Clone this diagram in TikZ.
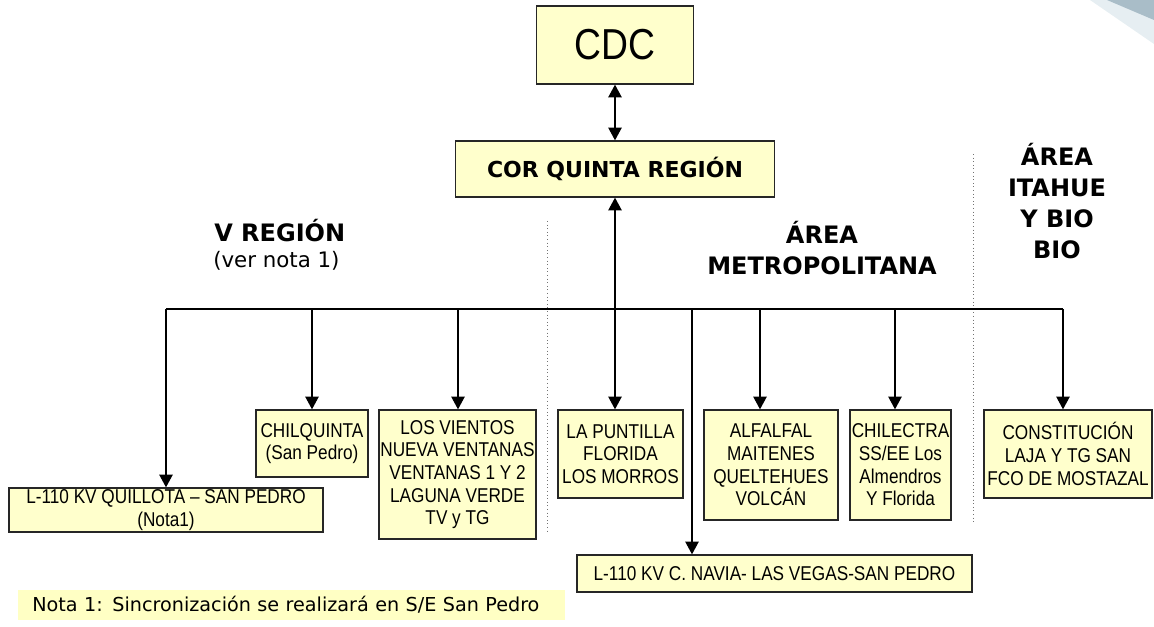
\documentclass[tikz,border=0pt]{standalone}
\usepackage{fontspec}
\setmainfont{Liberation Sans}
\newfontfamily\narrowfont[FakeStretch=0.86]{Liberation Sans}
\newfontfamily\tahoma{DejaVu Sans}
\usetikzlibrary{arrows.meta}

\newcommand{\pu}{0.75pt}

\definecolor{boxfill}{HTML}{FFFFCC}
\definecolor{notefill}{HTML}{FFFFC4}
\definecolor{swooshlight}{HTML}{E6EEF2}
\definecolor{swooshdark}{HTML}{A9BDC8}

\tikzset{
  unitbox/.style={draw=black!85, line width=1pt, fill=boxfill, align=center, inner sep=0pt,
    font=\narrowfont\fontsize{15}{17}\selectfont},
  area/.style={align=center, inner sep=0pt, font=\tahoma\bfseries\fontsize{18}{23.25}\selectfont},
  link/.style={line width=1pt},
  feed/.style={link, -{Triangle[length=9.5pt,width=10pt]}},
  both/.style={link, {Triangle[length=9.5pt,width=10pt]}-{Triangle[length=9.5pt,width=10pt]}},
  divider/.style={draw=black!55, dotted, line width=0.7pt}
}

\begin{document}
\begin{tikzpicture}[x=\pu, y=-\pu]

\useasboundingbox (0,0) rectangle (1154,627) ;

\fill [swooshlight] (1090,0) -- (1154,0) -- (1154,44) -- cycle ;
\fill [swooshdark] (1107,0) -- (1154,0) -- (1154,20) -- cycle ;

\node [unitbox, minimum width=157*\pu, minimum height=78*\pu, font=\narrowfont\fontsize{32.5}{36}\selectfont] (cdc) at (615,45) {CDC} ;
\node [unitbox, minimum width=319*\pu, minimum height=56*\pu, font=\tahoma\bfseries\fontsize{16.5}{20}\selectfont] (cor) at (615,169) {COR QUINTA REGIÓN} ;

\node [anchor=base west, inner sep=0pt, font=\tahoma\bfseries\fontsize{18}{22}\selectfont] (vreg) at (214,242) {V REGIÓN} ;
\node [anchor=base west, inner sep=0pt, font=\tahoma\fontsize{16}{20}\selectfont] (vnota) at (213,268) {(ver nota 1)} ;
\node [area] (metro) at (822,248) {ÁREA\\METROPOLITANA} ;
\node [area] (itahue) at (1057,201) {ÁREA\\ITAHUE\\Y BIO\\BIO} ;

\draw [divider] (547,221) to (547,533) ;
\draw [divider] (973,154) to (973,522) ;

\node [unitbox, minimum width=314*\pu, minimum height=44*\pu] (quillota) at (166,510) {L-110 KV QUILLOTA – SAN PEDRO\\(Nota1)} ;
\node [unitbox, minimum width=112*\pu, minimum height=67*\pu] (chilquinta) at (312,443.5) {CHILQUINTA\\(San Pedro)} ;
\node [unitbox, minimum width=157*\pu, minimum height=129*\pu] (vientos) at (457.5,474.5) {LOS VIENTOS\\NUEVA VENTANAS\\VENTANAS 1 Y 2\\LAGUNA VERDE\\TV y TG} ;
\node [unitbox, minimum width=125*\pu, minimum height=88*\pu] (puntilla) at (620.5,454) {LA PUNTILLA\\FLORIDA\\LOS MORROS} ;
\node [unitbox, minimum width=134*\pu, minimum height=110*\pu] (alfalfal) at (771,465) {ALFALFAL\\MAITENES\\QUELTEHUES\\VOLCÁN} ;
\node [unitbox, minimum width=101*\pu, minimum height=110*\pu] (chilectra) at (900.5,465) {CHILECTRA\\SS/EE Los\\Almendros\\Y Florida} ;
\node [unitbox, minimum width=168*\pu, minimum height=88*\pu] (constitucion) at (1068,454) {CONSTITUCIÓN\\LAJA Y TG SAN\\FCO DE MOSTAZAL} ;
\node [unitbox, minimum width=395*\pu, minimum height=37*\pu] (navia) at (774.5,573.5) {L-110 KV C. NAVIA- LAS VEGAS-SAN PEDRO} ;

\node [fill=notefill, anchor=west, inner xsep=14*\pu, inner ysep=0pt, minimum height=30*\pu, text width=519*\pu, align=left, font=\tahoma\fontsize{14.4}{17}\selectfont] (nota) at (18,605) {Nota 1: Sincronización se realizará en S/E San Pedro} ;

\coordinate (tap1) at (166,309) ;
\coordinate (tap2) at (312,309) ;
\coordinate (tap3) at (458,309) ;
\coordinate (tap4) at (692,309) ;
\coordinate (tap5) at (760,309) ;
\coordinate (tap6) at (895,309) ;
\coordinate (tap7) at (1063,309) ;

\draw [both] (cdc) to (cor) ;
\draw [both] (cor.south) to (cor.south |- puntilla.north) ;
\draw [link] (tap1) to (tap7) ;

\draw [feed] (tap1) to (tap1 |- quillota.north) ;
\draw [feed] (tap2) to (tap2 |- chilquinta.north) ;
\draw [feed] (tap3) to (tap3 |- vientos.north) ;
\draw [feed] (tap4) to (tap4 |- navia.north) ;
\draw [feed] (tap5) to (tap5 |- alfalfal.north) ;
\draw [feed] (tap6) to (tap6 |- chilectra.north) ;
\draw [feed] (tap7) to (tap7 |- constitucion.north) ;

\end{tikzpicture}
\end{document}
